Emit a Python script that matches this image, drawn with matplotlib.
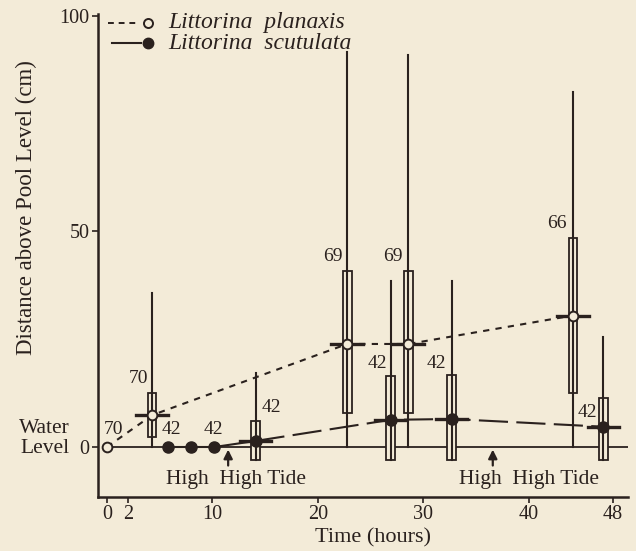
import numpy as np
import matplotlib
matplotlib.use("Agg")
import matplotlib.pyplot as plt
from matplotlib.patches import Rectangle

# Littorina planaxis (open circles, dotted line)
plan_t = [0, 4.3, 22.8, 28.6, 44.2]
plan_mean = [0, 7.4, 23.9, 23.9, 30.5]
plan_lo = [np.nan, 2.3, 7.9, 7.9, 12.6]
plan_hi = [np.nan, 12.5, 40.9, 40.9, 48.5]
plan_min = [np.nan, 0, 0, 0, 0]
plan_max = [np.nan, 35.7, 91.6, 91.0, 82.4]
plan_n = ["70", "70", "69", "69", "66"]

# Littorina scutulata (filled circles, solid / broken line)
scut_t = [5.8, 8.0, 10.2, 14.1, 26.9, 32.7, 47.1]
scut_mean = [0, 0, 0, 1.4, 6.3, 6.5, 4.7]
scut_lo = [np.nan, np.nan, np.nan, -3.0, -3.0, -3.0, -3.0]
scut_hi = [np.nan, np.nan, np.nan, 6.0, 16.5, 16.7, 11.4]
scut_min = [np.nan, np.nan, np.nan, -3.0, -3.0, -3.0, -3.0]
scut_max = [np.nan, np.nan, np.nan, 17.2, 38.5, 38.5, 25.6]
scut_n = ["42", "", "42", "42", "42", "42", "42"]

high_tide_t = [11.5, 36.6]

# label placements (x, y) in data units
plan_lab_xy = [(0.6, 4.0), (3.0, 15.8), (21.4, 44.3), (27.1, 44.3), (42.7, 51.8)]
scut_lab_xy = [(6.1, 4.0), (8.0, 4.0), (10.1, 4.0), (15.6, 9.2), (25.7, 19.3), (31.3, 19.3), (45.6, 8.0)]

bg = "#f3ebd8"
ink = "#2a211e"
plt.rcParams["font.family"] = ["Liberation Serif", "DejaVu Serif"]

fig = plt.figure(figsize=(6.36, 5.51), dpi=100, facecolor=bg)
ax = fig.add_axes([0.154, 0.098, 0.833, 0.877], facecolor=bg)
ax.set_xlim(-0.85, 49.4)
ax.set_ylim(-11.6, 100.5)

# water level
ax.plot([0, 49.4], [0, 0], color=ink, lw=1.3, zorder=1)

bw = 0.8   # box width (hours)
hw = 1.5   # half-width of mean bar


def draw_boxes(t, mean, lo, hi, mn, mx):
    for i in range(len(t)):
        if np.isnan(lo[i]):
            continue
        ax.plot([t[i], t[i]], [mn[i], mx[i]], color=ink, lw=1.5, zorder=4)
        ax.add_patch(Rectangle((t[i] - bw / 2, lo[i]), bw, hi[i] - lo[i],
                               facecolor=bg, edgecolor=ink, lw=1.3, zorder=3))
        ax.plot([t[i] - hw, t[i] + hw], [mean[i], mean[i]], color=ink, lw=2.4, zorder=4)


draw_boxes(plan_t, plan_mean, plan_lo, plan_hi, plan_min, plan_max)
draw_boxes(scut_t, scut_mean, scut_lo, scut_hi, scut_min, scut_max)

# mean lines
ax.plot(plan_t, plan_mean, color=ink, lw=1.5, ls=(0, (3, 3)), zorder=2)
ax.plot(scut_t[:4], scut_mean[:4], color=ink, lw=1.5, zorder=2)
ax.plot(scut_t[3:], scut_mean[3:], color=ink, lw=1.5, ls=(0, (14, 4)), zorder=2)

ax.plot(plan_t, plan_mean, ls="none", marker="o", ms=7, mfc=bg, mec=ink, mew=1.4, zorder=5)
ax.plot(scut_t, scut_mean, ls="none", marker="o", ms=8, mfc=ink, mec=ink, zorder=5)

for (x, y), s in zip(plan_lab_xy + scut_lab_xy, plan_n + scut_n):
    ax.text(x, y, s, ha="center", va="center", fontsize=14, color=ink, zorder=6)

# high tide arrows
for t in high_tide_t:
    ax.annotate("", xy=(t, -0.6), xytext=(t, -4.3),
                arrowprops=dict(arrowstyle="-|>", color=ink, lw=1.6, mutation_scale=13,
                                shrinkA=0, shrinkB=0))
ax.text(12.2, -7.5, "High  High Tide", ha="center", va="center", fontsize=15.5, color=ink)
ax.text(40.0, -7.5, "High  High Tide", ha="center", va="center", fontsize=15.5, color=ink)

# legend drawn by hand
ax.plot([0.1, 2.9], [98.4, 98.4], color=ink, lw=1.4, ls=(0, (3, 2.5)), clip_on=False)
ax.plot([3.9], [98.4], marker="o", ms=6.5, mfc=bg, mec=ink, mew=1.4, clip_on=False)
ax.text(5.8, 98.4, "Littorina  planaxis", style="italic", fontsize=17, va="center", color=ink)
ax.plot([0.5, 3.2], [93.7, 93.7], color=ink, lw=1.5, clip_on=False)
ax.plot([3.9], [93.7], marker="o", ms=7.5, mfc=ink, mec=ink, clip_on=False)
ax.text(5.8, 93.7, "Littorina  scutulata", style="italic", fontsize=17, va="center", color=ink)

for s in ["top", "right"]:
    ax.spines[s].set_visible(False)
for s in ["left", "bottom"]:
    ax.spines[s].set_color(ink)
    ax.spines[s].set_linewidth(1.8)

ax.set_xticks([0, 2, 10, 20, 30, 40, 48])
ax.set_yticks([0, 50, 100])
ax.tick_params(colors=ink, labelsize=14.5, length=4, width=1.2, pad=2)
ax.set_xlabel("Time (hours)", fontsize=16, color=ink)
ax.set_ylabel("Distance above Pool Level (cm)", fontsize=16.5, color=ink)
ax.xaxis.set_label_coords(0.519, -0.064)
ax.yaxis.set_label_coords(-0.115, 0.60)
ax.text(-5.9, 1.9, "Water\nLevel", ha="center", va="center", fontsize=15.5, color=ink,
        linespacing=1.05, clip_on=False)

fig.savefig("out.png", dpi=100, facecolor=bg)
